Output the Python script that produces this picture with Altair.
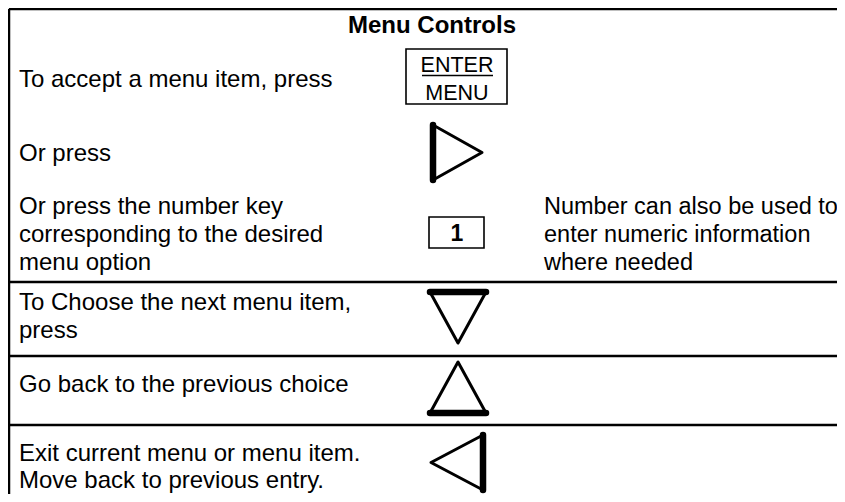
import altair as alt
import pandas as pd

FONT = "Liberation Sans"

# ---- content ----
title_text = ["Menu Controls"]
left_text = [
    "To accept a menu item, press",
    "Or press",
    "Or press the number key",
    "corresponding to the desired",
    "menu option",
    "To Choose the next menu item,",
    "press",
    "Go back to the previous choice",
    "Exit current menu or menu item.",
    "Move back to previous entry.",
]
right_text = ["Number can also be used to", "enter numeric information", "where needed"]
key_labels = ["ENTER", "MENU", "1"]
key_bold = [False, False, True]
tri_names = ["right", "down", "up", "left"]

W, H = 829, 486

# ---- layout (pixel positions in the picture) ----
title_x, title_y = [432], [33]
left_x = 19
left_y = [87, 161, 214, 242, 270, 310, 338, 392, 461, 488]
right_x = 544
right_y = [214, 242, 270]
key_x = 457
key_y = [72, 100, 241]
box_x0, box_x1 = [406, 429], [507, 484]
box_y0, box_y1 = [49, 217], [104, 248]
under_x0, under_x1, under_y = [422], [493], [75.5]
h_line_y = [282, 356, 425]
x_end = 8 + W
frame_x0, frame_x1, frame_y0, frame_y1 = [9, 9], [x_end, 9], [9, 9], [9, 8 + H]
# first two vertices of each triangle form its heavy edge
tri_x = [[433, 433, 482], [430, 486, 458], [430, 486, 458], [483, 483, 431]]
tri_y = [[125, 180, 152.5], [292, 292, 343], [413, 413, 362], [435, 490, 462.5]]

xs = alt.Scale(domain=[8, 8 + W], range=[0, W], nice=False, zero=False)
ys = alt.Scale(domain=[8, 8 + H], range=[0, H], nice=False, zero=False)


def X(f="x"):
    return alt.X(f"{f}:Q", scale=xs, axis=None)


def Y(f="y"):
    return alt.Y(f"{f}:Q", scale=ys, axis=None)


# frame + row separators
rules_df = pd.DataFrame(
    {
        "x": frame_x0 + [9] * len(h_line_y),
        "x2": frame_x1 + [x_end] * len(h_line_y),
        "y": frame_y0 + h_line_y,
        "y2": frame_y1 + h_line_y,
    }
)
rules = alt.Chart(rules_df).mark_rule(color="black", strokeWidth=2.5).encode(
    x=X(), x2="x2:Q", y=Y(), y2="y2:Q"
)

# key boxes
box_df = pd.DataFrame({"x": box_x0, "x2": box_x1, "y": box_y0, "y2": box_y1})
boxes = alt.Chart(box_df).mark_rect(
    fill="white", stroke="black", strokeWidth=1.6
).encode(x=X(), x2="x2:Q", y=Y(), y2="y2:Q")

# ENTER underline
under_df = pd.DataFrame({"x": under_x0, "x2": under_x1, "y": under_y})
underline = alt.Chart(under_df).mark_rule(color="black", strokeWidth=1.5).encode(
    x=X(), x2="x2:Q", y=Y()
)

# triangles
tri_rows = []
for name, xs_, ys_ in zip(tri_names, tri_x, tri_y):
    for i, (a, b) in enumerate(zip(xs_, ys_)):
        tri_rows.append({"tri": name, "i": i, "x": a, "y": b})
tri_df = pd.DataFrame(tri_rows)
tris = alt.Chart(tri_df).mark_line(
    interpolate="linear-closed", color="black", strokeWidth=3,
    strokeJoin="round", strokeCap="round",
).encode(x=X(), y=Y(), detail="tri:N", order="i:Q")

thick_df = pd.DataFrame(
    {
        "x": [t[0] for t in tri_x],
        "x2": [t[1] for t in tri_x],
        "y": [t[0] for t in tri_y],
        "y2": [t[1] for t in tri_y],
    }
)
thick = alt.Chart(thick_df).mark_rule(
    color="black", strokeWidth=6.5, strokeCap="round"
).encode(x=X(), x2="x2:Q", y=Y(), y2="y2:Q")

# texts
title_df = pd.DataFrame({"t": title_text, "x": title_x, "y": title_y})
title = alt.Chart(title_df).mark_text(
    font=FONT, fontSize=24, fontWeight="bold", align="center",
    baseline="alphabetic", color="black",
).encode(x=X(), y=Y(), text="t:N")

left_df = pd.DataFrame({"t": left_text, "x": [left_x] * len(left_text), "y": left_y})
left = alt.Chart(left_df).mark_text(
    font=FONT, fontSize=24, align="left", baseline="alphabetic", color="black"
).encode(x=X(), y=Y(), text="t:N")

right_df = pd.DataFrame({"t": right_text, "x": [right_x] * len(right_text), "y": right_y})
right = alt.Chart(right_df).mark_text(
    font=FONT, fontSize=23.5, align="left", baseline="alphabetic", color="black"
).encode(x=X(), y=Y(), text="t:N")

key_df = pd.DataFrame(
    {"t": key_labels, "x": [key_x] * len(key_labels), "y": key_y, "b": key_bold}
)
keys_reg = alt.Chart(key_df[~key_df["b"]]).mark_text(
    font=FONT, fontSize=21.5, align="center", baseline="alphabetic", color="black"
).encode(x=X(), y=Y(), text="t:N")
keys_bold = alt.Chart(key_df[key_df["b"]]).mark_text(
    font=FONT, fontSize=23, fontWeight="bold", align="center",
    baseline="alphabetic", color="black",
).encode(x=X(), y=Y(), text="t:N")

chart = (
    alt.layer(rules, boxes, underline, tris, thick, title, left, right, keys_reg, keys_bold)
    .properties(width=W, height=H, autosize=alt.AutoSizeParams(type="none"), padding=0)
    .configure_view(stroke=None)
    .configure(background="white")
)

chart.save("out.html", embed_options={"renderer": "svg", "actions": False})
